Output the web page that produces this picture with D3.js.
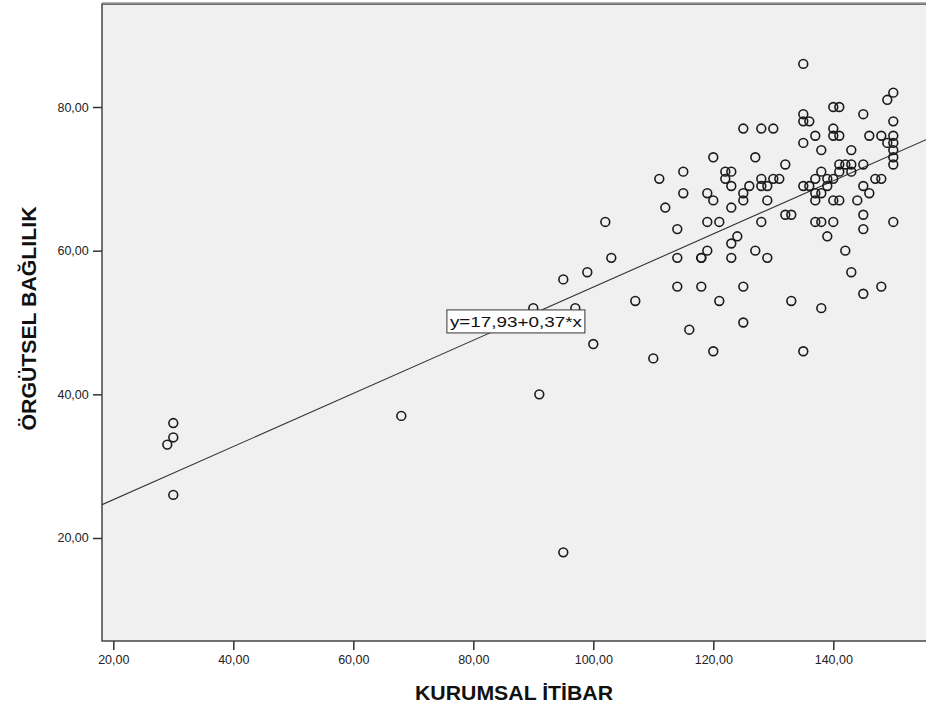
<!DOCTYPE html>
<html>
<head>
<meta charset="utf-8">
<script src="https://cdn.jsdelivr.net/npm/d3@7"></script>
<style>
  html, body { margin: 0; padding: 0; background: #ffffff; }
  svg { display: block; }
</style>
</head>
<body>
<svg id="chart" width="926" height="711"></svg>
<script>
// ---- data ----
const kurumsalItibar = [
  30, 30, 29, 30, 68, 91, 95, 90, 97,
  95, 99, 100, 102, 103, 107, 110, 111, 112, 114, 114, 114, 115, 115, 116,
  118, 118, 118, 119, 119, 119, 120, 120, 120, 121, 121, 122, 122, 123, 123,
  123, 123, 123, 124, 125, 125, 125, 125, 125, 126, 127, 127, 128, 128, 128,
  128, 129, 129, 129, 130, 130, 131, 132, 132, 133, 133,
  135, 135, 135, 136, 135, 135, 136, 135, 137, 137, 137, 137, 137, 138, 138,
  138, 138, 138, 139, 139, 139, 140, 141, 140, 140, 141, 140, 140, 141, 140,
  141, 141, 142, 142, 143, 143, 143, 143, 144, 145, 145, 145, 145, 145, 145,
  146, 146, 147, 148, 148, 148, 149, 149, 150, 150, 150, 150, 150, 150, 150, 150
];
const orgutselBaglilik = [
  36, 34, 33, 26, 37, 40, 18, 52, 52,
  56, 57, 47, 64, 59, 53, 45, 70, 66, 63, 59, 55, 71, 68, 49,
  59, 59, 55, 68, 64, 60, 73, 67, 46, 64, 53, 71, 70, 71, 69,
  66, 61, 59, 62, 77, 68, 67, 55, 50, 69, 73, 60, 77, 70, 69,
  64, 69, 67, 59, 77, 70, 70, 72, 65, 65, 53,
  86, 79, 78, 78, 75, 69, 69, 46, 76, 70, 68, 67, 64, 74, 71,
  68, 64, 52, 70, 69, 62, 80, 80, 77, 76, 76, 70, 67, 67, 64,
  72, 71, 72, 60, 74, 72, 71, 57, 67, 79, 72, 69, 65, 63, 54,
  76, 68, 70, 76, 70, 55, 81, 75, 82, 78, 76, 75, 74, 73, 72, 64
];
const xTicks = [20, 40, 60, 80, 100, 120, 140];
const yTicks = [20, 40, 60, 80];
const fitIntercept = 17.93;
const fitSlope = 0.37;
const fitLabel = "y=17,93+0,37*x";
const xTitle = "KURUMSAL İTİBAR";
const yTitle = "ÖRGÜTSEL BAĞLILIK";
const labelAnchor = [87.1, 50.15]; // label centre in data units

// ---- layout ----
const plot = { left: 102, top: 4, right: 926, bottom: 641 };

const x = d3.scaleLinear().domain([18.117, 155.45]).range([plot.left, plot.right]);
const y = d3.scaleLinear().domain([5.66, 94.34]).range([plot.bottom, plot.top]);

const loc = d3.formatLocale({ decimal: ",", thousands: ".", grouping: [3], currency: ["", ""] });
const fmt = loc.format(".2f");
const FONT = "Liberation Sans, Arial, sans-serif";

const svg = d3.select("#chart");

// plot background
svg.append("rect")
  .attr("x", plot.left).attr("y", plot.top)
  .attr("width", plot.right - plot.left + 5).attr("height", plot.bottom - plot.top)
  .attr("fill", "#f0f0f0");

svg.append("clipPath").attr("id", "clip")
  .append("rect")
  .attr("x", plot.left).attr("y", plot.top)
  .attr("width", plot.right - plot.left).attr("height", plot.bottom - plot.top);

// fit line
const xd = x.domain();
svg.append("line")
  .attr("clip-path", "url(#clip)")
  .attr("x1", x(xd[0])).attr("y1", y(fitIntercept + fitSlope * xd[0]))
  .attr("x2", x(xd[1])).attr("y2", y(fitIntercept + fitSlope * xd[1]))
  .attr("stroke", "#333").attr("stroke-width", 1.1);

// points
const pts = kurumsalItibar.map((v, i) => [v, orgutselBaglilik[i]]);
svg.append("g").attr("clip-path", "url(#clip)")
  .selectAll("circle").data(pts).enter().append("circle")
  .attr("cx", d => x(d[0])).attr("cy", d => y(d[1]))
  .attr("r", 4.4)
  .attr("fill", "none").attr("stroke", "#1a1a1a").attr("stroke-width", 1.6);

// fit label
const lg = svg.append("g");
const lcx = x(labelAnchor[0]), lcy = y(labelAnchor[1]);
lg.append("rect")
  .attr("x", lcx - 69).attr("y", lcy - 11.5)
  .attr("width", 138).attr("height", 23)
  .attr("fill", "#ffffff").attr("stroke", "#333").attr("stroke-width", 1);
lg.append("text")
  .attr("x", lcx - 66).attr("y", lcy + 5.5)
  .attr("font-family", FONT)
  .attr("font-size", 15.5).attr("fill", "#111")
  .attr("textLength", 132).attr("lengthAdjust", "spacingAndGlyphs")
  .text(fitLabel);

// axes
const xAxis = d3.axisBottom(x).tickValues(xTicks).tickFormat(fmt).tickSize(9).tickSizeOuter(0);
const yAxis = d3.axisLeft(y).tickValues(yTicks).tickFormat(fmt).tickSize(9).tickSizeOuter(0);

const gx = svg.append("g").attr("transform", `translate(0,${plot.bottom})`).call(xAxis);
const gy = svg.append("g").attr("transform", `translate(${plot.left},0)`).call(yAxis);
[gx, gy].forEach(g => {
  g.select(".domain").remove();
  g.selectAll(".tick line").attr("stroke", "#333").attr("stroke-width", 1.5);
  g.selectAll(".tick text")
    .attr("font-family", FONT)
    .attr("font-size", 12.5).attr("fill", "#222");
});
gx.selectAll(".tick text").attr("dy", "0.85em");
gy.selectAll(".tick text").attr("dx", "-0.1em");

// frame (left, bottom, top)
svg.append("path")
  .attr("d", `M${plot.right + 2},${plot.top} H${plot.left} V${plot.bottom} H${plot.right + 2}`)
  .attr("fill", "none").attr("stroke", "#444").attr("stroke-width", 1.5);
svg.append("line")
  .attr("x1", plot.left).attr("x2", plot.right)
  .attr("y1", plot.top - 1).attr("y2", plot.top - 1)
  .attr("stroke", "#999").attr("stroke-width", 1.5);

// titles
svg.append("text")
  .attr("x", (plot.left + plot.right) / 2).attr("y", 700)
  .attr("text-anchor", "middle")
  .attr("font-family", FONT)
  .attr("font-weight", "bold").attr("font-size", 21).attr("fill", "#111")
  .attr("textLength", 198).attr("lengthAdjust", "spacingAndGlyphs")
  .text(xTitle);
svg.append("text")
  .attr("transform", `translate(36,${(plot.top + plot.bottom) / 2 - 4}) rotate(-90)`)
  .attr("text-anchor", "middle")
  .attr("font-family", FONT)
  .attr("font-weight", "bold").attr("font-size", 21).attr("fill", "#111")
  .attr("textLength", 224).attr("lengthAdjust", "spacingAndGlyphs")
  .text(yTitle);
</script>
</body>
</html>
